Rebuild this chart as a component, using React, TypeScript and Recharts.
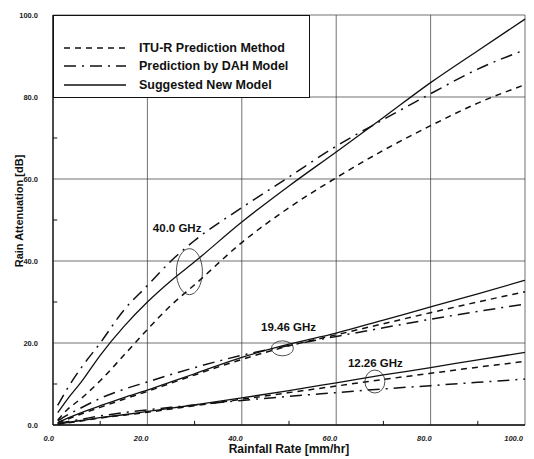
import {
  LineChart,
  Line,
  XAxis,
  YAxis,
  CartesianGrid,
  Legend,
  ReferenceLine,
  ReferenceDot,
} from "recharts";

// rainfall rate [mm/hr]
const rainRate = [1, 3, 6, 10, 15, 20, 25, 30, 40, 50, 60, 70, 80, 90, 100];

// 40.0 GHz
const itu40 = [1.2, 3.7, 6.5, 10.8, 17, 23.3, 29.2, 34.2, 44.5, 53, 60.3, 67, 73, 78.5, 83];
const dah40 = [4.8, 8.8, 14, 20, 28, 34, 40, 45, 53, 60.5, 68, 74.5, 80.8, 86.8, 91.5];
const new40 = [3, 6.2, 10.5, 17, 24, 30, 35.2, 39.8, 49.5, 58.3, 66.6, 75, 83.5, 91.3, 99];

// 19.46 GHz
const itu19 = [0.5, 1.4, 2.7, 4.3, 6.3, 8.2, 10.2, 12.2, 16, 19.3, 22, 24.7, 27.4, 30, 32.5];
const dah19 = [1, 2.4, 4.2, 6.5, 8.7, 10.5, 12.3, 14, 17, 19.4, 21.6, 23.7, 25.8, 27.7, 29.5];
const new19 = [0.6, 1.6, 3, 4.7, 6.7, 8.5, 10.5, 12.5, 16.5, 19.7, 22.4, 25.6, 28.8, 32, 35.3];

// 12.26 GHz
const itu12 = [0.2, 0.5, 1, 1.7, 2.4, 3.1, 3.9, 4.7, 6.3, 7.9, 9.5, 11.1, 12.6, 14.1, 15.5];
const dah12 = [0.3, 0.8, 1.4, 2.2, 3, 3.7, 4.3, 4.9, 6, 7, 7.9, 8.8, 9.6, 10.4, 11.2];
const new12 = [0.2, 0.6, 1.1, 1.8, 2.5, 3.3, 4.1, 4.9, 6.6, 8.4, 10.3, 12.2, 14, 15.9, 17.7];

const majorTicks = [0, 20, 40, 60, 80, 100];
const minorTicks = [10, 30, 50, 70, 90];

const data = rainRate.map((rate, i) => ({
  rate,
  itu40: itu40[i],
  dah40: dah40[i],
  new40: new40[i],
  itu19: itu19[i],
  dah19: dah19[i],
  new19: new19[i],
  itu12: itu12[i],
  dah12: dah12[i],
  new12: new12[i],
}));

const ITU_DASH = "6 5";
const DAH_DASH = "12 6 2 6";

const legendItems = [
  { name: "ITU-R Prediction Method", dash: ITU_DASH },
  { name: "Prediction by DAH Model", dash: DAH_DASH },
  { name: "Suggested New Model", dash: undefined },
];

const series = [
  { key: "itu40", dash: ITU_DASH },
  { key: "dah40", dash: DAH_DASH },
  { key: "new40", dash: undefined },
  { key: "itu19", dash: ITU_DASH },
  { key: "dah19", dash: DAH_DASH },
  { key: "new19", dash: undefined },
  { key: "itu12", dash: ITU_DASH },
  { key: "dah12", dash: DAH_DASH },
  { key: "new12", dash: undefined },
];

const fmt = (v: number) => v.toFixed(1);

function XTick(props: any) {
  const { x, y, payload } = props;
  return (
    <text
      x={x + 1}
      y={y}
      textAnchor="end"
      fontSize={7.5}
      fontStyle="italic"
      fontWeight={700}
      fill="#222"
    >
      {fmt(payload.value)}
    </text>
  );
}

function LegendBox() {
  const rows = [32, 50, 69];
  return (
    <div
      style={{
        position: "relative",
        width: 257,
        height: 83,
        boxSizing: "border-box",
        border: "1px solid #111",
        background: "#fff",
      }}
    >
      {legendItems.map((item, i) => (
        <div
          key={item.name}
          style={{
            position: "absolute",
            left: 0,
            top: rows[i] - 8,
            height: 16,
            display: "flex",
            alignItems: "center",
          }}
        >
          <svg width={73} height={16}>
            <line
              x1={10}
              x2={72}
              y1={8}
              y2={8}
              stroke="#111"
              strokeWidth={1.4}
              strokeDasharray={item.dash}
            />
          </svg>
          <span
            style={{
              marginLeft: 12,
              fontSize: 12.5,
              fontWeight: 700,
              color: "#111",
              whiteSpace: "nowrap",
            }}
          >
            {item.name}
          </span>
        </div>
      ))}
    </div>
  );
}

const ellipse = (rx: number, ry: number) => (p: any) =>
  <ellipse cx={p.cx} cy={p.cy} rx={rx} ry={ry} fill="none" stroke="#222" strokeWidth={0.8} />;

const tag = (text: string) => (p: any) =>
  (
    <text
      x={p.cx}
      y={p.cy}
      textAnchor="middle"
      dominantBaseline="central"
      fontSize={11.5}
      fontWeight={700}
      fill="#111"
    >
      {text}
    </text>
  );

export default function App() {
  return (
    <div
      style={{
        position: "absolute",
        left: 0,
        top: 0,
        width: 534,
        height: 459,
        background: "#fff",
        fontFamily: "'Liberation Sans', Arial, sans-serif",
      }}
    >
      <LineChart
        width={534}
        height={459}
        data={data}
        margin={{ top: 15, right: 9, bottom: 0, left: 13 }}
      >
        <CartesianGrid stroke="#333" strokeWidth={0.7} />
        <XAxis
          dataKey="rate"
          type="number"
          domain={[0, 100]}
          ticks={majorTicks}
          height={34}
          tickSize={0}
          tickMargin={16}
          tick={<XTick />}
          axisLine={{ stroke: "#111", strokeWidth: 1.3 }}
          tickLine={false}
          label={{
            value: "Rainfall Rate [mm/hr]",
            position: "insideBottom",
            offset: 6,
            fontSize: 12,
            fontWeight: 700,
            fill: "#111",
          }}
        />
        <YAxis
          type="number"
          domain={[0, 100]}
          ticks={majorTicks}
          width={40}
          tickSize={0}
          tickMargin={15}
          tickFormatter={fmt}
          tick={{ fontSize: 7.5, fontWeight: 700, fill: "#222" }}
          axisLine={{ stroke: "#111", strokeWidth: 1.3 }}
          tickLine={false}
          label={{
            content: (p: any) => {
              const vb = p.viewBox;
              const cx = 19 - 13 + vb.x;
              const cy = vb.y + vb.height / 2 - 9;
              return (
                <text
                  x={cx}
                  y={cy}
                  transform={`rotate(-90 ${cx} ${cy})`}
                  textAnchor="middle"
                  dominantBaseline="central"
                  fontSize={11}
                  fontWeight={700}
                  fill="#111"
                >
                  Rain Attenuation [dB]
                </text>
              );
            },
          }}
        />
        {minorTicks.map((t) => (
          <ReferenceLine
            key={`mx${t}`}
            segment={[
              { x: t, y: 0 },
              { x: t, y: 1 },
            ]}
            stroke="#111"
            strokeWidth={1}
          />
        ))}
        {minorTicks.map((t) => (
          <ReferenceLine
            key={`my${t}`}
            segment={[
              { x: 0, y: t },
              { x: 0.9, y: t },
            ]}
            stroke="#111"
            strokeWidth={1}
          />
        ))}
        {series.map((s) => (
          <Line
            key={s.key}
            dataKey={s.key}
            type="monotone"
            stroke="#111"
            strokeWidth={s.dash ? 1.5 : 1.3}
            strokeDasharray={s.dash}
            dot={false}
            isAnimationActive={false}
          />
        ))}
        <ReferenceDot x={28.9} y={37.4} r={1} shape={ellipse(13, 23)} />
        <ReferenceDot x={48.6} y={18.7} r={1} shape={ellipse(11, 7.5)} />
        <ReferenceDot x={68.2} y={10.6} r={1} shape={ellipse(10, 11.5)} />
        <ReferenceDot x={26.3} y={48} r={1} shape={tag("40.0 GHz")} />
        <ReferenceDot x={49.9} y={23.9} r={1} shape={tag("19.46 GHz")} />
        <ReferenceDot x={68.3} y={15.2} r={1} shape={tag("12.26 GHz")} />
        <Legend
          layout="vertical"
          align="center"
          verticalAlign="middle"
          wrapperStyle={{ left: 53, top: 15, width: 257, height: 83 }}
          content={() => <LegendBox />}
        />
      </LineChart>
    </div>
  );
}
